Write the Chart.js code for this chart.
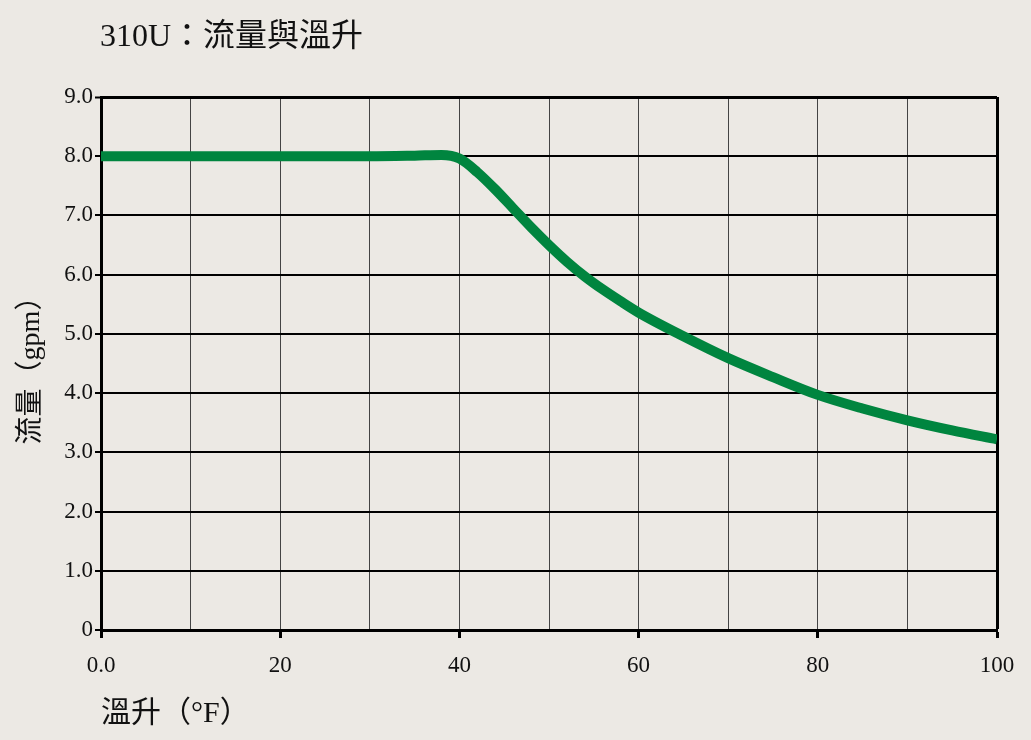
<!DOCTYPE html>
<html>
<head>
<meta charset="utf-8">
<script src="https://cdn.jsdelivr.net/npm/chart.js@4/dist/chart.umd.min.js"></script>
<style>
  html, body { margin: 0; padding: 0; background: #ece9e4; }
  #wrap { width: 1031px; height: 740px; position: relative; }
</style>
</head>
<body>
<div id="wrap"><canvas id="myChart" width="1031" height="740"></canvas></div>
<script>
'use strict';

// chart data
const chartTitle = '310U：流量與溫升';
const xTitle = '溫升（°F）';
const yTitle = '流量（gpm）';
const tempRise = [0, 10, 20, 30, 35, 38, 40, 42, 44, 46, 48, 50, 52, 54, 56, 58, 60, 65, 70, 75, 80, 85, 90, 95, 100];
const flowGpm = [8.0, 8.0, 8.0, 8.0, 8.01, 8.02, 7.96, 7.73, 7.44, 7.12, 6.8, 6.5, 6.22, 5.97, 5.75, 5.55, 5.36, 4.96, 4.59, 4.27, 3.97, 3.74, 3.54, 3.37, 3.22];
const xTicks = [0, 20, 40, 60, 80, 100];

const fontFamily = "'Liberation Serif', 'Noto Sans CJK TC', serif";

// draws the title at the left edge of the plot
const titlePlugin = {
    id: 'leftTitle',
    afterDraw(chart) {
        const ctx = chart.ctx;
        ctx.save();
        ctx.font = '32px ' + fontFamily;
        ctx.fillStyle = '#111';
        ctx.textBaseline = 'middle';
        ctx.textAlign = 'left';
        ctx.fillText(chartTitle, 100, 38);
        ctx.restore();
    }
};

const points = tempRise.map((x, i) => ({ x: x, y: flowGpm[i] }));

new Chart('myChart', {
    type: 'line',
    data: {
        datasets: [{
            data: points,
            borderColor: '#00853f',
            borderWidth: 10,
            pointRadius: 0,
            fill: false,
            cubicInterpolationMode: 'monotone'
        }]
    },
    options: {
        responsive: false,
        animation: false,
        layout: { padding: { top: 97, right: 34, bottom: 0, left: 0 } },
        plugins: {
            legend: { display: false },
            tooltip: { enabled: false }
        },
        scales: {
            x: {
                type: 'linear',
                min: 0,
                max: 100,
                afterFit(scale) { scale.height = 110; },
                border: { display: true, color: '#000', width: 3 },
                grid: {
                    color: (c) => c.tick && c.tick.value === 100 ? '#000' : '#444',
                    lineWidth: (c) => c.tick && c.tick.value === 100 ? 3 : 1,
                    tickLength: 8,
                    tickWidth: 3,
                    tickColor: (c) => c.tick && xTicks.includes(c.tick.value) ? '#000' : 'rgba(0,0,0,0)'
                },
                ticks: {
                    stepSize: 10,
                    autoSkip: false,
                    maxRotation: 0,
                    padding: 14,
                    color: '#111',
                    font: { family: fontFamily, size: 23 },
                    callback: (v) => {
                        if (!xTicks.includes(v)) return '';
                        return v === 0 ? '0.0' : String(v);
                    }
                },
                title: {
                    display: true,
                    text: xTitle,
                    align: 'start',
                    color: '#111',
                    font: { family: fontFamily, size: 30 },
                    padding: { top: 0, bottom: 8 }
                }
            },
            y: {
                min: 0,
                max: 9,
                afterFit(scale) { scale.width = 101; },
                border: { display: true, color: '#000', width: 3 },
                grid: {
                    color: '#000',
                    lineWidth: (c) => c.tick && c.tick.value === 9 ? 3 : 2,
                    tickLength: 6,
                    tickWidth: 2,
                    tickColor: '#000'
                },
                ticks: {
                    stepSize: 1,
                    padding: 2,
                    color: '#111',
                    font: { family: fontFamily, size: 23 },
                    callback: (v) => v === 0 ? '0' : v.toFixed(1)
                },
                title: {
                    display: true,
                    text: yTitle,
                    color: '#111',
                    font: { family: fontFamily, size: 28 },
                    padding: { top: 15, bottom: 0 }
                }
            }
        }
    },
    plugins: [titlePlugin]
});
</script>
</body>
</html>
